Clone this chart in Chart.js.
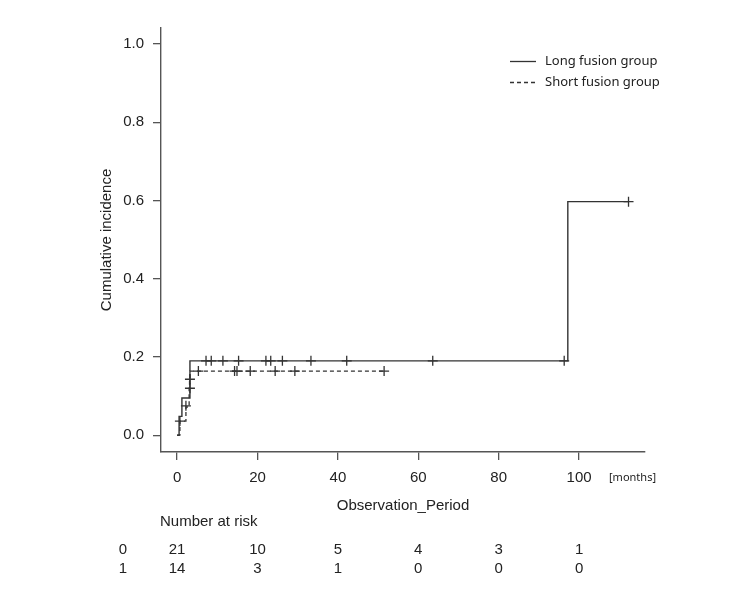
<!DOCTYPE html>
<html>
<head>
<meta charset="utf-8">
<script src="https://cdn.jsdelivr.net/npm/chart.js@4"></script>
<style>
  body { margin: 0; background: #fff; }
  canvas { display: block; }
</style>
</head>
<body>
<canvas id="cif" width="750" height="600"></canvas>
<script>
// step curves (time in months, cumulative incidence after the step)
const longTimes = [0, 0.5, 1.2, 3.2, 97.2, 112.3];
const longInc = [0, 0.048, 0.095, 0.19, 0.597, 0.597];
const shortTimes = [0, 0.7, 2.2, 3.0, 3.1, 3.2, 51.5];
const shortInc = [0, 0.036, 0.072, 0.12, 0.143, 0.164, 0.164];

// censoring marks
const longCensorTimes = [7.2, 8.5, 11.4, 15.3, 22.1, 23.3, 26.2, 33.3, 42.2, 63.6, 96.3, 112.3];
const longCensorInc = [0.19, 0.19, 0.19, 0.19, 0.19, 0.19, 0.19, 0.19, 0.19, 0.19, 0.19, 0.597];
const shortCensorTimes = [0.7, 2.2, 3.2, 3.2, 5.3, 14.3, 14.9, 18.2, 24.4, 29.3, 51.5];
const shortCensorInc = [0.036, 0.075, 0.12, 0.143, 0.164, 0.164, 0.164, 0.164, 0.164, 0.164, 0.164];

const xTicks = [0, 20, 40, 60, 80, 100];
const yTicks = [0, 0.2, 0.4, 0.6, 0.8, 1.0];

// number at risk table
const riskTimes = [0, 20, 40, 60, 80, 100];
const riskGroups = ['0', '1'];
const riskLong = [21, 10, 5, 4, 3, 1];
const riskShort = [14, 3, 1, 0, 0, 0];

const legendLabels = ['Long fusion group', 'Short fusion group'];

const ink = '#222';
const lineCol = '#333';
const axisCol = '#555';
const sans = '"Liberation Sans", Arial, sans-serif';

const toPoints = (xs, ys) => xs.map((x, i) => ({ x: x, y: ys[i] }));

const extras = {
    id: 'extras',
    afterDraw(chart) {
        const ctx = chart.ctx;
        const xs = chart.scales.x;
        const area = chart.chartArea;
        ctx.save();
        ctx.fillStyle = ink;

        // y axis title
        ctx.save();
        ctx.translate(107, (area.top + area.bottom) / 2);
        ctx.rotate(-Math.PI / 2);
        ctx.font = '15px ' + sans;
        ctx.textAlign = 'center';
        ctx.textBaseline = 'middle';
        ctx.fillText('Cumulative incidence', 0, 0);
        ctx.restore();

        // unit after the last tick
        ctx.font = '11px "Noto Sans", sans-serif';
        ctx.textAlign = 'left';
        ctx.textBaseline = 'middle';
        ctx.fillText('[months]', 609, 478);

        // x axis title
        ctx.font = '15px ' + sans;
        ctx.textAlign = 'center';
        ctx.fillText('Observation_Period', 403, 506);

        // number at risk
        ctx.textAlign = 'left';
        ctx.fillText('Number at risk', 160, 522);
        const rows = [riskLong, riskShort];
        rows.forEach((row, r) => {
            const y = 550 + r * 19;
            ctx.textAlign = 'center';
            ctx.fillText(riskGroups[r], 123, y);
            row.forEach((n, i) => {
                ctx.fillText(String(n), xs.getPixelForValue(riskTimes[i]), y);
            });
        });

        // legend
        ctx.strokeStyle = lineCol;
        ctx.lineWidth = 1.3;
        [61, 82].forEach((y, i) => {
            ctx.setLineDash(i === 0 ? [] : [4, 3]);
            ctx.beginPath();
            ctx.moveTo(510, y + 0.5);
            ctx.lineTo(536, y + 0.5);
            ctx.stroke();
        });
        ctx.setLineDash([]);
        ctx.font = '13px "Noto Sans", sans-serif';
        ctx.textAlign = 'left';
        ctx.fillText(legendLabels[0], 545, 61);
        ctx.fillText(legendLabels[1], 545, 82);

        ctx.restore();
    }
};

new Chart(document.getElementById('cif'), {
    type: 'line',
    data: {
        datasets: [
            {
                label: legendLabels[0],
                data: toPoints(longTimes, longInc),
                stepped: 'before',
                borderColor: lineCol,
                borderWidth: 1.4,
                pointRadius: 0,
                fill: false
            },
            {
                label: legendLabels[1],
                data: toPoints(shortTimes, shortInc),
                stepped: 'before',
                borderColor: lineCol,
                borderWidth: 1.3,
                borderDash: [4, 3],
                pointRadius: 0,
                fill: false
            },
            {
                type: 'scatter',
                label: 'censor long',
                data: toPoints(longCensorTimes, longCensorInc),
                pointStyle: 'cross',
                pointRadius: 5,
                borderColor: lineCol,
                borderWidth: 1.3,
                showLine: false
            },
            {
                type: 'scatter',
                label: 'censor short',
                data: toPoints(shortCensorTimes, shortCensorInc),
                pointStyle: 'cross',
                pointRadius: 5,
                borderColor: lineCol,
                borderWidth: 1.3,
                showLine: false
            }
        ]
    },
    options: {
        responsive: false,
        animation: false,
        devicePixelRatio: 1,
        layout: { padding: { top: 28, right: 105, bottom: 0, left: 0 } },
        plugins: {
            legend: { display: false },
            tooltip: { enabled: false }
        },
        scales: {
            x: {
                type: 'linear',
                min: -4,
                max: 116.4,
                afterFit: s => { s.height = 148; },
                afterBuildTicks: s => { s.ticks = xTicks.map(v => ({ value: v })); },
                grid: { drawOnChartArea: false, drawTicks: true, tickLength: 8, color: axisCol, lineWidth: 1.3 },
                border: { color: axisCol, width: 1.4 },
                ticks: {
                    color: ink,
                    font: { family: sans, size: 15 },
                    padding: 9,
                    maxRotation: 0,
                    callback: v => String(v)
                }
            },
            y: {
                type: 'linear',
                min: -0.043,
                max: 1.041,
                afterFit: s => { s.width = 161; },
                afterBuildTicks: s => { s.ticks = yTicks.map(v => ({ value: v })); },
                grid: { drawOnChartArea: false, drawTicks: true, tickLength: 8, color: axisCol, lineWidth: 1.3 },
                border: { color: axisCol, width: 1.4 },
                ticks: {
                    color: ink,
                    font: { family: sans, size: 15 },
                    padding: 9,
                    callback: v => v.toFixed(1)
                }
            }
        }
    },
    plugins: [extras]
});
</script>
</body>
</html>
